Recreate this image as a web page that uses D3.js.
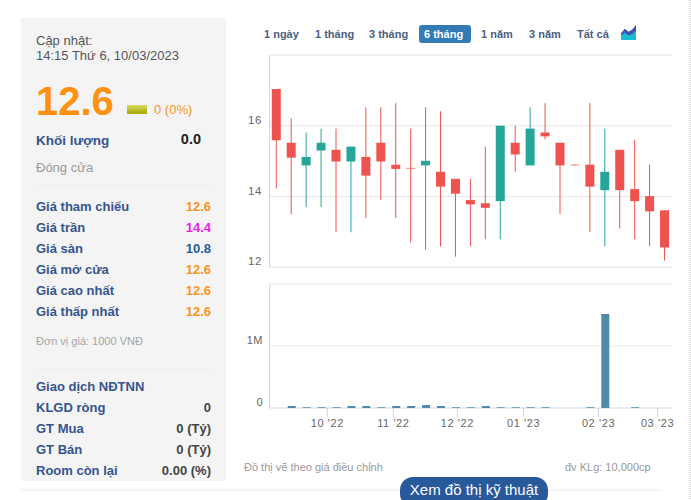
<!DOCTYPE html>
<html>
<head>
<meta charset="utf-8">
<script src="https://cdn.jsdelivr.net/npm/d3@7"></script>
<style>
  html, body { margin: 0; padding: 0; background: #fff; overflow: hidden; }
  text { font-family: "Liberation Sans", Arial, sans-serif; }
</style>
</head>
<body>
<svg id="chart" width="691" height="500"></svg>
<script>
// candles (thousand VND)
var opens  = [17.04,15.52,14.88,15.30,15.32,14.99,15.12,15.52,14.90,14.81,14.88,14.70,14.50,13.90,13.81,13.87,15.52,14.88,15.81,15.52,14.90,14.90,14.18,15.32,14.21,14.01,13.61];
var closes = [15.59,15.10,15.12,15.52,14.99,15.41,14.59,14.99,14.78,14.79,15.01,14.28,14.08,13.78,13.68,16.00,15.19,15.92,15.70,14.88,14.88,14.28,14.70,14.18,13.87,13.58,12.56];
var highs  = [17.04,16.21,15.81,15.92,15.92,15.41,16.52,16.52,16.64,15.92,16.52,16.41,14.50,14.50,15.41,16.00,16.00,16.52,16.64,15.52,14.90,16.64,15.92,15.32,15.61,14.90,13.61];
var lows   = [14.23,13.50,13.70,13.70,12.99,12.99,13.39,13.90,13.39,12.70,12.50,12.59,12.30,12.59,12.79,12.79,14.70,14.88,15.61,13.50,14.88,12.99,12.59,13.10,12.79,12.59,12.19];
// volume by candle, in millions
var volumes = [0,0.032,0.012,0.012,0.012,0.032,0.032,0.012,0.032,0.032,0.048,0.032,0.012,0.012,0.032,0.012,0.012,0.012,0.012,0,0,0.012,1.516,0,0.012,0,0];

var priceTicks = [12,14,16,18];
var volumeTicks = [0,1];
var monthLabels = ["10 '22","11 '22","12 '22","01 '23","02 '23","03 '23"];
var monthIndex = [3.42,7.84,12.13,16.56,21.58,25.53];
var ranges = ["1 ngày","1 tháng","3 tháng","6 tháng","1 năm","3 năm","Tất cả"];
var rangeX = [264,315,369,424,481,529,577];
var priceRows = ["Giá tham chiếu","Giá trần","Giá sàn","Giá mở cửa","Giá cao nhất","Giá thấp nhất"];
var priceVals = ["12.6","14.4","10.8","12.6","12.6","12.6"];
var priceCols = ["#f7941d","#e81fe0","#1f5f96","#f7941d","#f7941d","#f7941d"];
var foreignRows = ["KLGD ròng","GT Mua","GT Bán","Room còn lại"];
var foreignVals = ["0","0 (Tỷ)","0 (Tỷ)","0.00 (%)"];

var svg = d3.select("#chart");
var red = "#ef5350", teal = "#26a69a", grid = "#e6e6e6", axisCol = "#ccd6eb";

function label(x, y, s, size, col, opts) {
  opts = opts || {};
  return svg.append("text").attr("x", x).attr("y", y).text(s)
    .attr("font-size", size).attr("fill", col)
    .attr("font-weight", opts.bold ? "bold" : "normal")
    .attr("text-anchor", opts.anchor || "start");
}

// left panel
svg.append("rect").attr("x", 21).attr("y", 18).attr("width", 205).attr("height", 463).attr("fill", "#f4f4f5");
label(36, 45, "Cập nhật:", 13, "#555");
label(36, 60, "14:15 Thứ 6, 10/03/2023", 13, "#555");
label(36, 115, "12.6", 40, "#ff9010", {bold: true});
var flag = d3.select("#chart").append("defs").append("linearGradient").attr("id", "flag").attr("x2", 0).attr("y2", 1);
flag.append("stop").attr("offset", 0).attr("stop-color", "#d8d860");
flag.append("stop").attr("offset", 1).attr("stop-color", "#a8a800");
svg.append("rect").attr("x", 127).attr("y", 105).attr("width", 20).attr("height", 9).attr("fill", "url(#flag)");
label(154, 114, "0 (0%)", 13, "#f7941d", {bold: false});
label(36, 145, "Khối lượng", 13.5, "#34558b", {bold: true});
label(201, 144, "0.0", 14.5, "#222", {bold: true, anchor: "end"});
label(36, 172, "Đóng cửa", 13, "#999");
svg.append("line").attr("x1", 36).attr("x2", 211).attr("y1", 185).attr("y2", 185).attr("stroke", "#ececec");

priceRows.forEach(function(r, i) {
  var y = 211 + i * 21;
  label(36, y, r, 13, "#34558b", {bold: true});
  label(211, y, priceVals[i], 13, priceCols[i], {bold: true, anchor: "end"});
});
label(36, 345, "Đơn vị giá: 1000 VNĐ", 11, "#a5a5a5");
svg.append("line").attr("x1", 36).attr("x2", 211).attr("y1", 370).attr("y2", 370).attr("stroke", "#ececec");
label(36, 391, "Giao dịch NĐTNN", 13, "#34558b", {bold: true});
foreignRows.forEach(function(r, i) {
  var y = 412 + i * 21;
  label(36, y, r, 13, "#34558b", {bold: true});
  label(211, y, foreignVals[i], 13, "#444", {bold: true, anchor: "end"});
});

// range buttons
svg.append("rect").attr("x", 419).attr("y", 25).attr("width", 52).attr("height", 18).attr("rx", 3).attr("fill", "#337ab7");
ranges.forEach(function(r, i) {
  label(rangeX[i], 38, r, 11, i == 3 ? "#fff" : "#4b5f80", {bold: true});
});
var iconX = d3.scaleLinear().domain([0, 4]).range([621, 636]);
var iconY = d3.scaleLinear().domain([0, 4]).range([40, 25]);
var iconTop = [[0,1.8],[1,3],[2,2.2],[3,2.8],[4,4]];
var iconMid = [[0,1.2],[1,2],[2,1.2],[3,1.6],[4,2.4]];
var iconArea = d3.area().x(function(d){return iconX(d[0]);});
svg.append("path").datum(iconTop).attr("fill", "#3f51b5")
  .attr("d", iconArea.y0(iconY(0)).y1(function(d){return iconY(d[1]);}));
svg.append("path").datum(iconMid).attr("fill", "#17bcd0")
  .attr("d", iconArea.y0(iconY(0)).y1(function(d){return iconY(d[1]);}));

// scales
var x = d3.scaleLinear().domain([-0.44, 26.5]).range([269.7, 672]);
var yP = d3.scaleLinear().domain([12, 18]).range([267.3, 55]);
var yV = d3.scaleLinear().domain([0, 2]).range([408, 284]);

// price grid
svg.append("g").selectAll("line").data(priceTicks).join("line")
  .attr("x1", x.range()[0]).attr("x2", x.range()[1])
  .attr("y1", function(d){return yP(d);}).attr("y2", function(d){return yP(d);})
  .attr("stroke", grid).attr("stroke-width", 1);
svg.append("line").attr("x1", x.range()[0]).attr("x2", x.range()[0])
  .attr("y1", yP.range()[1]).attr("y2", yP.range()[0]).attr("stroke", axisCol);
svg.append("g").selectAll("text").data(priceTicks.slice(0, 3)).join("text")
  .attr("x", 262).attr("y", function(d){return yP(d) - 2;})
  .attr("text-anchor", "end").attr("font-size", 11.5).attr("letter-spacing", 0.6).attr("fill", "#666")
  .text(function(d){return d;});

// candles
var candles = svg.append("g").selectAll("g").data(d3.range(opens.length)).join("g");
function candleCol(i){ return closes[i] > opens[i] ? teal : red; }
candles.append("line")
  .attr("x1", function(i){return x(i);}).attr("x2", function(i){return x(i);})
  .attr("y1", function(i){return yP(highs[i]);}).attr("y2", function(i){return yP(lows[i]);})
  .attr("stroke", candleCol).attr("stroke-width", 1);
candles.append("rect")
  .attr("x", function(i){return x(i) - 4.5;}).attr("width", 9)
  .attr("y", function(i){return yP(Math.max(opens[i], closes[i]));})
  .attr("height", function(i){return Math.abs(yP(opens[i]) - yP(closes[i]));})
  .attr("fill", candleCol);

// volume panel
svg.append("g").selectAll("line").data([1, 2]).join("line")
  .attr("x1", x.range()[0]).attr("x2", x.range()[1])
  .attr("y1", function(d){return yV(d);}).attr("y2", function(d){return yV(d);})
  .attr("stroke", grid);
svg.append("line").attr("x1", x.range()[0]).attr("x2", x.range()[0])
  .attr("y1", yV.range()[1]).attr("y2", yV.range()[0]).attr("stroke", axisCol);
svg.append("line").attr("x1", x.range()[0]).attr("x2", x.range()[1])
  .attr("y1", yV(0)).attr("y2", yV(0)).attr("stroke", axisCol);
svg.append("g").selectAll("text").data(volumeTicks).join("text")
  .attr("x", 263).attr("y", function(d){return yV(d) - 2;})
  .attr("text-anchor", "end").attr("font-size", 11).attr("letter-spacing", 0.5).attr("fill", "#666")
  .text(function(d){return d ? d + "M" : "0";});
svg.append("g").selectAll("rect").data(d3.range(volumes.length).filter(function(i){return volumes[i] > 0;})).join("rect")
  .attr("x", function(i){return x(i) - 3.5;}).attr("width", 8)
  .attr("y", function(i){return yV(volumes[i]);})
  .attr("height", function(i){return yV(0) - yV(volumes[i]);})
  .attr("fill", "#4f8aab");

// month ticks
svg.append("g").selectAll("line").data(monthIndex).join("line")
  .attr("x1", function(d){return x(d);}).attr("x2", function(d){return x(d);})
  .attr("y1", yV(0)).attr("y2", yV(0) + 9).attr("stroke", axisCol);
svg.append("g").selectAll("text").data(monthLabels).join("text")
  .attr("x", function(d, i){return x(monthIndex[i]);}).attr("y", 427)
  .attr("text-anchor", "middle").attr("font-size", 11).attr("letter-spacing", 0.6).attr("fill", "#666")
  .text(function(d){return d;});

// footer
label(244, 471, "Đồ thị vẽ theo giá điều chỉnh", 11, "#999");
label(565, 471, "đv KLg: 10,000cp", 11, "#999");
svg.append("line").attr("x1", 21).attr("x2", 660).attr("y1", 490).attr("y2", 490).attr("stroke", "#e8e8e8");
svg.append("rect").attr("x", 400).attr("y", 477).attr("width", 148).attr("height", 30).attr("rx", 13).attr("fill", "#28599b");
label(474, 495, "Xem đồ thị kỹ thuật", 15, "#fff", {anchor: "middle"});
svg.append("line").attr("x1", 690).attr("x2", 690).attr("y1", 0).attr("y2", 500)
  .attr("stroke", "#bbb").attr("stroke-dasharray", "1,1");
</script>
</body>
</html>
